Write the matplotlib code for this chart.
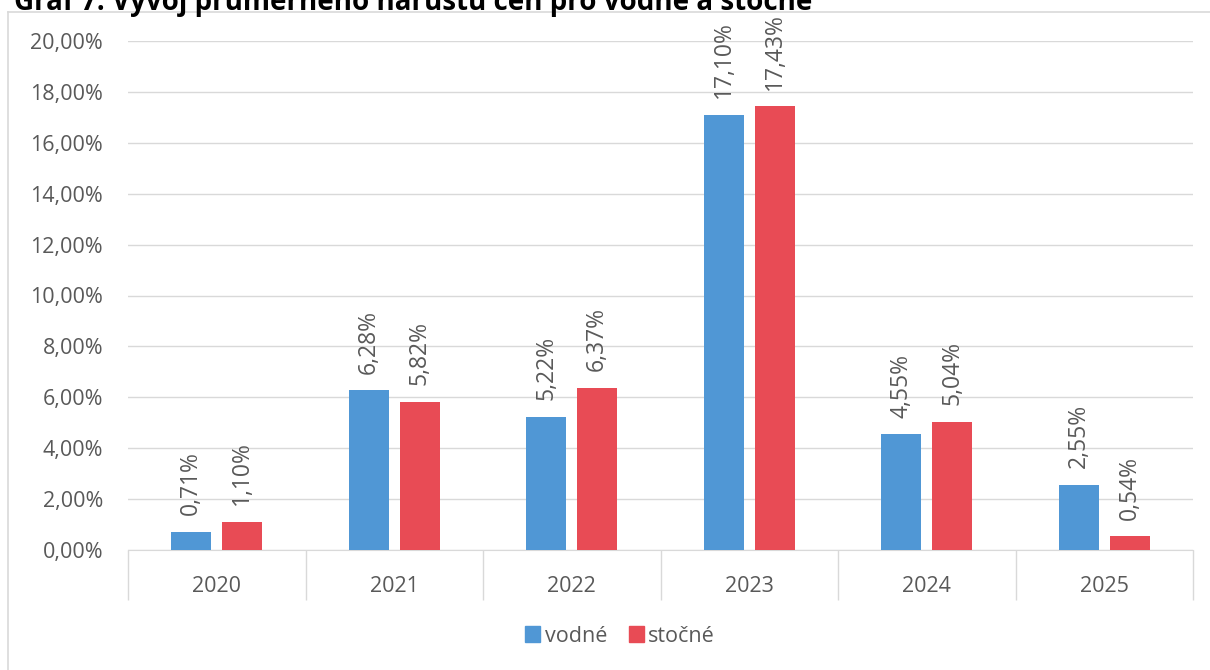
import numpy as np
import matplotlib.pyplot as plt
from matplotlib.lines import Line2D
from matplotlib.patches import Patch

# Data
roky = ['2020', '2021', '2022', '2023', '2024', '2025']
vodne = [0.71, 6.28, 5.22, 17.10, 4.55, 2.55]
stocne = [1.10, 5.82, 6.37, 17.43, 5.04, 0.54]

modra = '#5097D5'
cervena = '#E84B55'
seda_text = '#595959'
seda_cara = '#D9D9D9'

plt.rcParams['font.family'] = ['Open Sans', 'DejaVu Sans']
fs = 15.5

fig = plt.figure(figsize=(12.1, 6.7), dpi=100)
ax = fig.add_axes([128/1210, 1 - 550/670, (1193 - 128)/1210, (550 - 41)/670])

x = np.arange(len(roky))
sirka = 0.225
posun = 0.1435
b1 = ax.bar(x - posun, vodne, sirka, color=modra, zorder=3)
b2 = ax.bar(x + posun, stocne, sirka, color=cervena, zorder=3)

def popisky(bars, hodnoty):
    for b, v in zip(bars, hodnoty):
        ax.annotate(f'{v:.2f}%'.replace('.', ','),
                    (b.get_x() + b.get_width()/2, b.get_height()),
                    xytext=(0, 12), textcoords='offset points',
                    rotation=90, ha='center', va='bottom',
                    fontsize=16.5, color=seda_text)

popisky(b1, vodne)
popisky(b2, stocne)

ax.set_ylim(0, 20)
ax.set_xlim(-0.5, len(roky) - 0.5)
yt = np.arange(0, 21, 2)
ax.set_yticks(yt)
ax.set_yticklabels([f'{v:.2f}%'.replace('.', ',') for v in yt], fontsize=fs, color=seda_text)
ax.tick_params(axis='y', length=0, pad=18)
ax.yaxis.grid(True, color=seda_cara, linewidth=1, zorder=0)

# kategorie: hranice jako dlouhe ticky, popisky na stredech
ax.set_xticks(np.arange(-0.5, len(roky)), minor=False)
ax.set_xticklabels([''] * (len(roky) + 1))
ax.set_xticks(x, minor=True)
ax.set_xticklabels(roky, minor=True, fontsize=fs, color=seda_text)
ax.tick_params(axis='x', which='major', length=36, color=seda_cara, width=1)
ax.tick_params(axis='x', which='minor', length=0, pad=19)

for s in ['top', 'right', 'left']:
    ax.spines[s].set_visible(False)
ax.spines['bottom'].set_color(seda_cara)

# ramecek grafu
fig.add_artist(Line2D([8/1210, 8/1210], [0, 1 - 12/670], color=seda_cara, lw=1.2, transform=fig.transFigure))
fig.add_artist(Line2D([8/1210, 1], [1 - 12/670, 1 - 12/670], color=seda_cara, lw=1.2, transform=fig.transFigure))

fig.text(14/1210, 1 - 10/670, 'Graf 7: Vývoj průměrného nárůstu cen pro vodné a stočné',
         fontsize=20, fontweight='bold', color='black', ha='left', va='baseline')

fig.legend(handles=[Patch(color=modra, label='vodné'), Patch(color=cervena, label='stočné')],
           loc='center', bbox_to_anchor=(620/1210, 1 - 636/670), ncol=2, frameon=False,
           fontsize=fs, labelcolor=seda_text, handlelength=0.7, handleheight=0.7,
           handletextpad=0.2, columnspacing=1.0)

fig.savefig('out.png', dpi=100)
